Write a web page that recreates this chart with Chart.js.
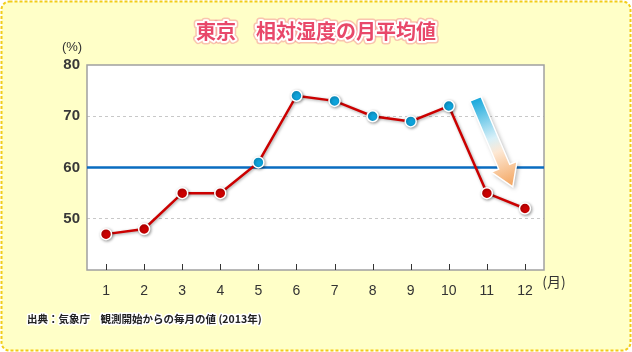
<!DOCTYPE html>
<html lang="ja">
<head>
  <meta charset="UTF-8">
  <title>東京 相対湿度の月平均値</title>
  <style>
    * { margin: 0; padding: 0; box-sizing: border-box; }
    body { width: 632px; height: 352px; background: #ffffff; overflow: hidden; }
    #wrap { width: 632px; height: 352px; }
  </style>
  <script src="https://cdn.jsdelivr.net/npm/chart.js@4/dist/chart.umd.min.js"></script>
</head>
<body>
  <div id="wrap"><canvas id="humChart" width="632" height="352"></canvas></div>

  <script>
    // データ（気象庁 2013年 東京の月平均相対湿度）
    const months = ['1', '2', '3', '4', '5', '6', '7', '8', '9', '10', '11', '12'];
    const humidity = [47, 48, 55, 55, 61, 74, 73, 70, 69, 72, 55, 52];
    const yTicks = [50, 60, 70, 80];
    const baseLine = 60;
    const titleText = '東京　相対湿度の月平均値';
    const sourceText = '出典：気象庁　観測開始からの毎月の値 (2013年)';

    const CJK = '"Noto Sans CJK JP", sans-serif';
    const LATIN = '"Liberation Sans", Arial, sans-serif';

    // 背景・枠・基準線・矢印・文字など
    const decor = {
      id: 'decor',
      beforeDraw(chart) {
        const c = chart.ctx;
        const a = chart.chartArea;
        const W = chart.width, H = chart.height;
        c.save();
        // 外枠
        c.fillStyle = '#ffffc8';
        c.beginPath();
        c.roundRect(1.5, 1.5, W - 3, H - 3, 8);
        c.fill();
        c.setLineDash([3, 2]);
        c.strokeStyle = '#f2cc1a';
        c.lineWidth = 2;
        c.stroke();
        c.setLineDash([]);
        // プロットエリア
        c.fillStyle = '#ffffff';
        c.fillRect(a.left, a.top, a.right - a.left, a.bottom - a.top);
        c.restore();
      },
      beforeDatasetsDraw(chart) {
        const c = chart.ctx;
        const a = chart.chartArea;
        const x = chart.scales.x, y = chart.scales.y;
        c.save();
        // 枠線
        c.strokeStyle = '#a0a0a0';
        c.lineWidth = 1.5;
        c.strokeRect(a.left, a.top, a.right - a.left, a.bottom - a.top);
        // 目盛り（内向き）
        c.strokeStyle = '#333';
        c.lineWidth = 1;
        months.forEach((m, i) => {
          const px = Math.round(x.getPixelForValue(i)) + 0.5;
          c.beginPath();
          c.moveTo(px, a.bottom - 6);
          c.lineTo(px, a.bottom);
          c.stroke();
        });
        // 基準線 60%
        const py = y.getPixelForValue(baseLine);
        c.strokeStyle = '#0a6cc0';
        c.lineWidth = 2.5;
        c.beginPath();
        c.moveTo(a.left, py);
        c.lineTo(a.right, py);
        c.stroke();

        // 矢印（グラデーション）
        const x0 = x.getPixelForValue(9.7), y0 = y.getPixelForValue(73.4);
        const x1 = x.getPixelForValue(10.68), y1 = y.getPixelForValue(56.2);
        const ang = Math.atan2(y1 - y0, x1 - x0);
        const len = Math.hypot(x1 - x0, y1 - y0);
        c.translate(x0, y0);
        c.rotate(ang);
        const sw = 6, hw = 14, hl = 22;
        c.beginPath();
        c.moveTo(0, -sw);
        c.lineTo(len - hl, -sw);
        c.lineTo(len - hl, -hw);
        c.lineTo(len, 0);
        c.lineTo(len - hl, hw);
        c.lineTo(len - hl, sw);
        c.lineTo(0, sw);
        c.closePath();
        const g = c.createLinearGradient(0, 0, len, 0);
        g.addColorStop(0, '#16a8dc');
        g.addColorStop(0.45, '#d8f0f8');
        g.addColorStop(0.6, '#fde8d4');
        g.addColorStop(1, '#f3a35c');
        c.shadowColor = 'rgba(0,0,0,0.3)';
        c.shadowBlur = 4;
        c.shadowOffsetX = 2;
        c.shadowOffsetY = 2;
        c.fillStyle = g;
        c.fill();
        c.shadowColor = 'transparent';
        c.strokeStyle = '#ffffff';
        c.lineWidth = 1.5;
        c.stroke();
        c.restore();
      },
      afterDraw(chart) {
        const c = chart.ctx;
        const x = chart.scales.x;
        c.save();
        // タイトル
        c.font = 'bold 20px ' + CJK;
        c.textAlign = 'center';
        c.textBaseline = 'middle';
        c.lineJoin = 'round';
        c.strokeStyle = 'rgba(240,110,135,0.4)';
        c.lineWidth = 7;
        c.strokeText(titleText, chart.width / 2, 31);
        c.strokeStyle = '#ffffff';
        c.lineWidth = 4;
        c.strokeText(titleText, chart.width / 2, 31);
        c.fillStyle = '#e8486a';
        c.fillText(titleText, chart.width / 2, 31);
        // 単位
        c.fillStyle = '#333';
        c.font = '13px ' + LATIN;
        c.fillText('(%)', 72, 47);
        c.font = '14px ' + CJK;
        c.fillText('(月)', x.getPixelForValue(11) + 29, 282);
        // 出典
        c.font = 'bold 10.5px ' + CJK;
        c.textAlign = 'left';
        c.strokeStyle = '#ffffff';
        c.lineWidth = 3;
        c.strokeText(sourceText, 27, 319);
        c.fillStyle = '#222';
        c.fillText(sourceText, 27, 319);
        c.restore();
      }
    };

    // 点の影
    const pointShadow = {
      id: 'pointShadow',
      beforeDatasetDraw(chart) {
        const c = chart.ctx;
        c.save();
        c.shadowColor = 'rgba(0,0,0,0.35)';
        c.shadowBlur = 3;
        c.shadowOffsetX = 1;
        c.shadowOffsetY = 1;
      },
      afterDatasetDraw(chart) {
        chart.ctx.restore();
      }
    };

    const ctx = document.getElementById('humChart').getContext('2d');
    new Chart(ctx, {
      type: 'line',
      data: {
        labels: months,
        datasets: [{
          data: humidity,
          borderColor: '#cc0000',
          borderWidth: 2.5,
          tension: 0,
          pointRadius: 5.5,
          pointHoverRadius: 5.5,
          pointBorderColor: '#ffffff',
          pointBorderWidth: 1.5,
          pointBackgroundColor: humidity.map(v => v > baseLine ? '#0ea3db' : '#cc0000')
        }]
      },
      options: {
        responsive: false,
        animation: false,
        events: [],
        layout: { padding: { left: 0, right: 88, top: 65, bottom: 0 } },
        plugins: {
          legend: { display: false },
          tooltip: { enabled: false }
        },
        scales: {
          x: {
            offset: true,
            grid: { display: false },
            border: { display: false },
            ticks: {
              color: '#333',
              font: { family: LATIN, size: 14 },
              padding: 5,
              maxRotation: 0
            },
            afterFit(s) { s.height = 82; }
          },
          y: {
            min: 40,
            max: 80,
            border: { display: false, dash: [3, 3] },
            grid: {
              drawTicks: false,
              color: c => (c.tick.value === 50 || c.tick.value === 70) ? '#c8c8c8' : 'transparent'
            },
            ticks: {
              stepSize: 10,
              color: '#383838',
              font: { family: LATIN, size: 15, weight: 'bold' },
              padding: 7,
              callback: v => yTicks.includes(v) ? v : ''
            },
            afterFit(s) { s.width = 87; }
          }
        }
      },
      plugins: [decor, pointShadow]
    });
  </script>
</body>
</html>
